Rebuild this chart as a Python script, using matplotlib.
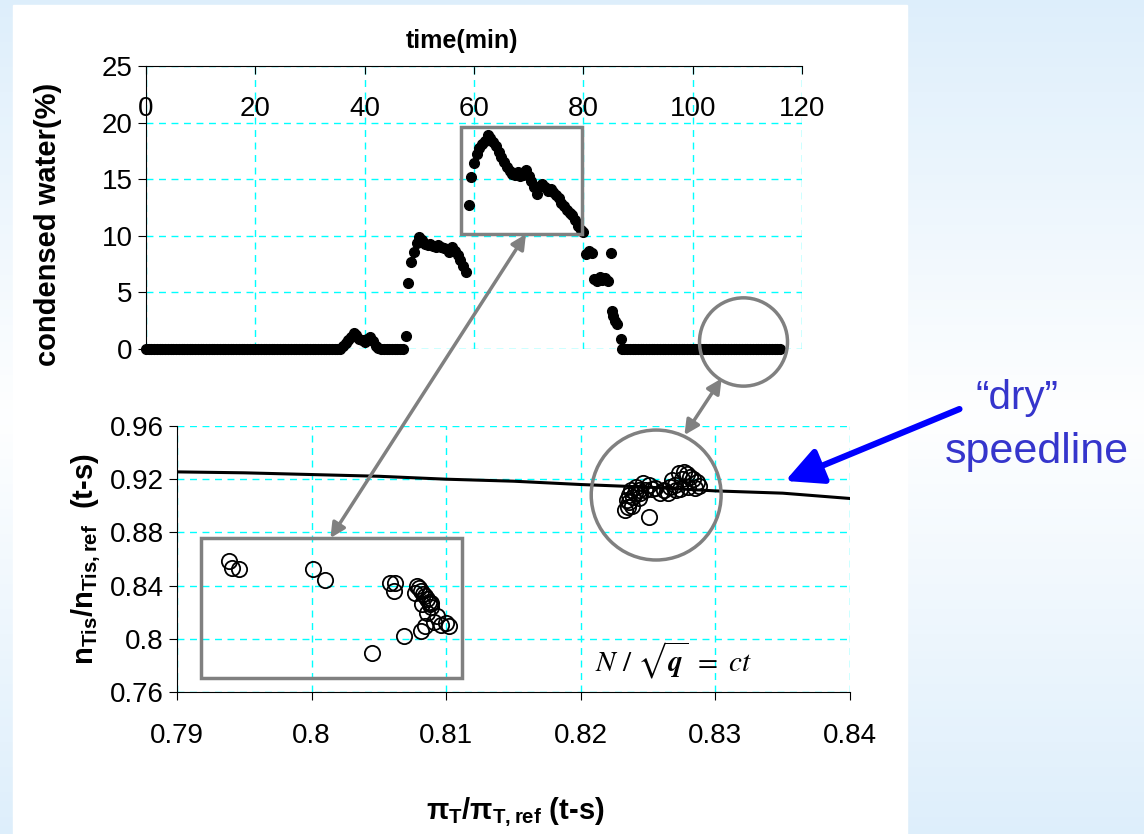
import numpy as np
import matplotlib
matplotlib.use("Agg")
import matplotlib.pyplot as plt
from matplotlib.patches import Rectangle, Ellipse, ConnectionPatch

plt.rcParams["font.family"] = ["Liberation Sans", "DejaVu Sans"]
plt.rcParams["mathtext.fontset"] = "custom"
plt.rcParams["mathtext.rm"] = "Liberation Sans"
plt.rcParams["mathtext.bf"] = "Liberation Sans:bold"
plt.rcParams["mathtext.it"] = "Liberation Sans:italic"

# --- top chart: condensed water vs time ---
# flat "dry" stretches sampled every 0.5 min, all at 0 %
DRY_TIME_A = np.arange(0.0, 36.0, 0.5)
DRY_TIME_B = np.arange(43.5, 47.5, 0.5)
DRY_TIME_C = np.arange(87.0, 116.5, 0.5)

WET_TIME = [36.0, 36.5, 37.0, 37.5, 38.0, 38.5, 39.0, 39.5, 40.0, 40.5, 41.0,
            41.5, 42.0, 42.5, 43.0, 47.5,
            48.0, 48.5, 49.0, 49.5, 50.0, 50.5, 51.0, 51.5, 52.0, 52.5, 53.0,
            53.5, 54.0, 54.5, 55.0, 55.5, 56.0, 56.5, 57.0, 57.5, 58.0, 58.5,
            59.0, 59.5, 60.0, 60.5, 61.0, 61.5, 62.0, 62.5, 63.0, 63.5, 64.0,
            64.5, 65.0, 65.5, 66.0, 66.5, 67.0, 67.5, 68.0, 68.5, 69.0, 69.5,
            70.0, 70.5, 71.0, 71.5, 72.0, 72.5, 73.0, 73.5, 74.0, 74.5, 75.0,
            75.5, 76.0, 76.5, 77.0, 77.5, 78.0, 78.5, 79.0, 79.5, 80.0,
            80.5, 81.0, 81.5, 82.0, 82.5, 83.0, 83.5, 84.0, 84.5, 85.0, 85.2,
            85.5, 85.8, 86.2, 86.8]
WET_WATER = [0.3, 0.5, 0.8, 1.1, 1.4, 1.2, 0.9, 0.8, 0.6, 0.9, 1.1,
             0.7, 0.3, 0.1, 0.0, 1.15,
             5.8, 7.7, 8.6, 9.4, 9.9, 9.6, 9.3, 9.2, 9.3, 9.1, 9.0,
             9.2, 9.0, 8.9, 8.8, 8.6, 9.0, 8.7, 8.3, 7.9, 7.3, 6.8,
             12.7, 15.2, 16.4, 17.2, 17.8, 18.1, 18.4, 18.9, 18.6, 18.3, 17.9,
             17.4, 17.0, 16.5, 16.1, 15.7, 15.5, 15.4, 15.6, 15.3, 15.4, 15.8,
             15.3, 14.8, 14.3, 13.7, 14.4, 14.6, 14.3, 14.0, 14.1, 13.9, 13.6,
             13.3, 12.9, 12.6, 12.3, 12.0, 11.8, 11.4, 10.9, 10.5, 10.3,
             8.4, 8.7, 8.5, 6.2, 6.0, 6.4, 6.1, 6.3, 6.0, 8.5, 3.4,
             2.9, 2.5, 2.2, 0.9]

TOP_XTICKS = [0, 20, 40, 60, 80, 100, 120]
TOP_YTICKS = [0, 5, 10, 15, 20, 25]

# --- bottom chart: efficiency ratio vs pressure ratio ---
SPEEDLINE_PI = [0.79, 0.795, 0.80, 0.805, 0.81, 0.815, 0.82, 0.825, 0.83, 0.835, 0.84]
SPEEDLINE_ETA = [0.9255, 0.9248, 0.9235, 0.9222, 0.9200, 0.9185, 0.9160, 0.9140,
                 0.9112, 0.9095, 0.9055]

WET_PI = [0.7939, 0.7941, 0.7946, 0.8001, 0.8010, 0.8058, 0.8062, 0.8061,
          0.8078, 0.8077, 0.8080, 0.8081, 0.8083, 0.8084, 0.8086, 0.8087,
          0.8088, 0.8089, 0.8082, 0.8089, 0.8086, 0.8091, 0.8093, 0.8096,
          0.8100, 0.8102, 0.8084, 0.8081, 0.8069, 0.8045]
WET_ETA = [0.8587, 0.8535, 0.8523, 0.8523, 0.8439, 0.8422, 0.8417, 0.8359,
           0.8397, 0.8348, 0.8380, 0.8360, 0.8340, 0.8320, 0.8300, 0.8280,
           0.8260, 0.8240, 0.8260, 0.8267, 0.8197, 0.8130, 0.8170, 0.8105,
           0.8120, 0.8098, 0.8098, 0.8056, 0.8018, 0.7895]

DRY_PI = [0.8233, 0.8235, 0.8234, 0.8237, 0.8241, 0.8246, 0.8251, 0.8244,
          0.8239, 0.8255, 0.8259, 0.8266, 0.8268, 0.8273, 0.8277, 0.8281,
          0.8286, 0.8285, 0.8271, 0.8265, 0.8280, 0.8236, 0.8243, 0.8251,
          0.8236, 0.8238, 0.8240, 0.8243, 0.8248, 0.8253, 0.8270, 0.8275,
          0.8279, 0.8283, 0.8288, 0.8262, 0.8274]
DRY_ETA = [0.8968, 0.8994, 0.9045, 0.9119, 0.9144, 0.9169, 0.9156, 0.9095,
           0.9068, 0.9134, 0.9095, 0.9144, 0.9194, 0.9244, 0.9256, 0.9219,
           0.9181, 0.9132, 0.9119, 0.9095, 0.9144, 0.9080, 0.9120, 0.8914,
           0.9030, 0.9000, 0.9100, 0.9060, 0.9120, 0.9130, 0.9160, 0.9200,
           0.9240, 0.9200, 0.9150, 0.9120, 0.9130]

BOT_XTICKS = [0.79, 0.80, 0.81, 0.82, 0.83, 0.84]
BOT_XLABELS = ["0.79", "0.8", "0.81", "0.82", "0.83", "0.84"]
BOT_YTICKS = [0.76, 0.80, 0.84, 0.88, 0.92, 0.96]
BOT_YLABELS = ["0.76", "0.8", "0.84", "0.88", "0.92", "0.96"]

GRID = dict(color="#00ffff", linestyle=(0, (5, 4)), linewidth=1.0)
GRAY = "#808080"
TICK_SIZE = 20

fig = plt.figure(figsize=(11.44, 8.34), dpi=100)

# slide background: pale blue gradient with a white panel
bg = fig.add_axes([0, 0, 1, 1], zorder=-10)
grad = np.concatenate([np.linspace(0, 1, 50), np.linspace(1, 0, 50)])
c_edge = np.array([0.87, 0.935, 0.985])
c_mid = np.array([0.995, 0.998, 1.0])
img = c_edge[None, :] + grad[:, None] * (c_mid - c_edge)[None, :]
bg.imshow(img[:, None, :], extent=[0, 1, 0, 1], aspect="auto")
bg.add_patch(Rectangle((13 / 1144, 0), (907 - 13) / 1144, 1 - 5 / 834,
                       color="white", zorder=2))
bg.set_xlim(0, 1)
bg.set_ylim(0, 1)
bg.axis("off")

# --- top axes ---
ax1 = fig.add_axes([146 / 1144, 1 - 349 / 834, 656 / 1144, 283 / 834])
ax1.set_facecolor("none")
ax1.plot(np.concatenate([DRY_TIME_A, DRY_TIME_B, DRY_TIME_C]),
         np.zeros(len(DRY_TIME_A) + len(DRY_TIME_B) + len(DRY_TIME_C)),
         "o", color="black", ms=7, clip_on=False, zorder=3)
ax1.plot(WET_TIME, WET_WATER, "o", color="black", ms=7, clip_on=False, zorder=3)
ax1.set_xlim(0, 120)
ax1.set_ylim(0, 25)
ax1.set_xticks(TOP_XTICKS)
ax1.set_yticks(TOP_YTICKS)
ax1.xaxis.tick_top()
ax1.tick_params(axis="x", direction="in", length=6, pad=-40, labelsize=TICK_SIZE,
                top=True, bottom=False)
ax1.tick_params(axis="y", direction="out", length=6, labelsize=TICK_SIZE)
for s in ["right", "bottom"]:
    ax1.spines[s].set_visible(False)
ax1.grid(True, **GRID)
ax1.set_axisbelow(True)
ax1.set_ylabel("condensed water(%)", fontsize=21, fontweight="bold")
ax1.yaxis.set_label_coords(-0.128, 0.44)
ax1.text(0.482, 1.09, "time(min)", transform=ax1.transAxes, ha="center",
         va="center", fontsize=18, fontweight="bold")

ax1.add_patch(Rectangle((57.6, 10.15), 22.2, 9.45, fill=False, ec=GRAY, lw=2.5,
                        zorder=4, clip_on=False))
ax1.add_patch(Ellipse((109.3, 0.62), 16.1, 7.8, fill=False, ec=GRAY, lw=2.5,
                      zorder=4, clip_on=False))

# --- bottom axes ---
ax2 = fig.add_axes([177 / 1144, 1 - 692 / 834, 673 / 1144, 266 / 834])
ax2.set_facecolor("none")
ax2.plot(SPEEDLINE_PI, SPEEDLINE_ETA, color="black", lw=2.2, zorder=3)
ax2.plot(WET_PI, WET_ETA, "o", mfc="none", mec="black", ms=11, mew=1.3, zorder=4)
ax2.plot(DRY_PI, DRY_ETA, "o", mfc="none", mec="black", ms=11, mew=1.3, zorder=4)
ax2.set_xlim(0.79, 0.84)
ax2.set_ylim(0.76, 0.96)
ax2.set_xticks(BOT_XTICKS, BOT_XLABELS)
ax2.set_yticks(BOT_YTICKS, BOT_YLABELS)
ax2.tick_params(axis="both", direction="out", length=6, labelsize=TICK_SIZE)
ax2.tick_params(axis="x", pad=16)
for s in ["right", "top"]:
    ax2.spines[s].set_visible(False)
ax2.grid(True, **GRID)
ax2.set_axisbelow(True)
ax2.set_ylabel(r"$\mathbf{n_{Tis}/n_{Tis,ref}}$  (t-s)", fontsize=21,
               fontweight="bold")
ax2.yaxis.set_label_coords(-0.11, 0.5)
ax2.set_xlabel(r"$\mathbf{π_{T}/π_{T,ref}}$ (t-s)", fontsize=21,
               fontweight="bold")
ax2.xaxis.set_label_coords(0.502, -0.39)
ax2.text(0.8269, 0.784, r"$N\ /\ \sqrt{\boldsymbol{q}}\ =\ ct$", fontsize=21,
         math_fontfamily="stix", ha="center", va="center", zorder=5)

ax2.add_patch(Rectangle((0.7918, 0.7708), 0.0194, 0.105, fill=False, ec=GRAY,
                        lw=2.5, zorder=4))
ax2.add_patch(Ellipse((0.8256, 0.9081), 0.00965, 0.0977, fill=False, ec=GRAY,
                      lw=2.5, zorder=4))

# zoom arrows linking the two charts
for xa, xb in [((69.5, 10.15), (0.8014, 0.8758)),
               ((105.3, -2.6), (0.8277, 0.9532))]:
    con = ConnectionPatch(xyA=xa, coordsA=ax1.transData, xyB=xb,
                          coordsB=ax2.transData, arrowstyle="<|-|>",
                          color=GRAY, lw=2.5, mutation_scale=22, zorder=6)
    fig.add_artist(con)

# "dry" speedline callout
ax2.annotate("", xy=(0.8350, 0.9179), xycoords="data",
             xytext=(962 / 1144, 1 - 408 / 834), textcoords="figure fraction",
             arrowprops=dict(arrowstyle="-|>,head_length=0.8,head_width=0.4",
                             color="#0000ff", lw=4.5, mutation_scale=28),
             annotation_clip=False)
fig.text(1017 / 1144, 1 - 398 / 834, "\u201cdry\u201d", color="#3535cc",
         fontsize=29, ha="center", va="center")
fig.text(1037 / 1144, 1 - 452 / 834, "speedline", color="#3535cc",
         fontsize=31, ha="center", va="center")

fig.savefig("out.png", dpi=100)
